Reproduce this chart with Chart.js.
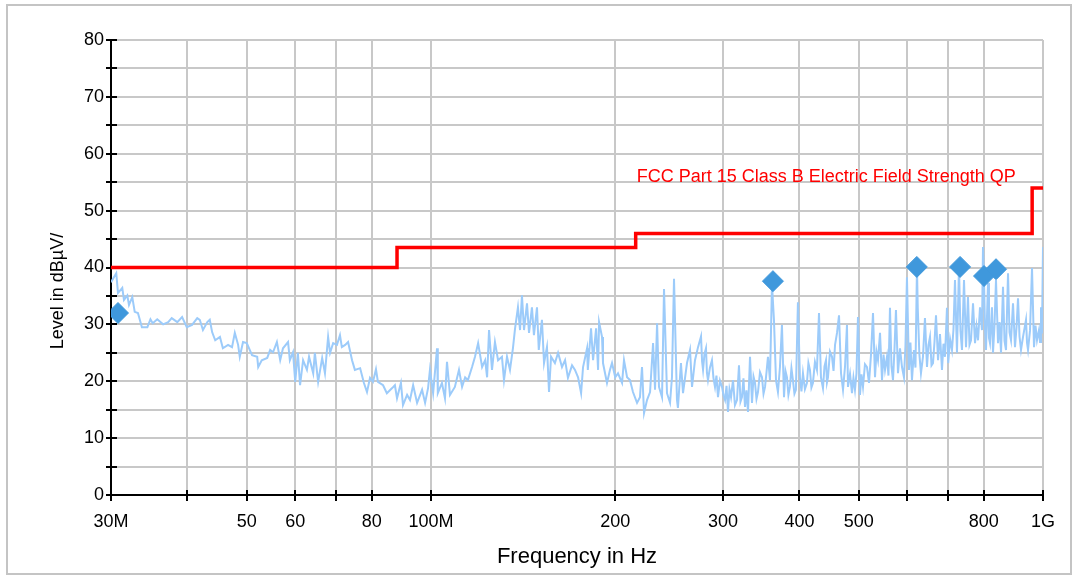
<!DOCTYPE html>
<html>
<head>
<meta charset="utf-8">
<script src="https://cdn.jsdelivr.net/npm/chart.js@4.4.1/dist/chart.umd.min.js"></script>
<style>
  html, body { margin: 0; padding: 0; background: #fff; }
  #wrap { position: relative; width: 1073px; height: 576px; }
</style>
</head>
<body>
<div id="wrap"><canvas id="chart" width="1073" height="576"></canvas></div>
<script>
// frequencies in MHz, levels in dBuV
var traceFreq = [
    30.0, 30.6, 30.8, 31.3, 31.5, 31.9, 32.1, 32.5, 32.8, 33.2, 33.7, 34.4, 34.8, 35.1, 35.7, 36.5, 37.2, 37.7, 38.5, 39.2,
    39.9, 40.7, 41.5, 41.9, 42.4, 43.1, 43.5, 43.9, 44.4, 45.2, 45.7, 46.6, 47.3, 47.8, 48.4, 48.7, 49.3, 50.0, 51.0, 52.0,
    52.2, 52.9, 54.0, 54.6, 55.2, 56.0, 56.7, 57.3, 58.4, 58.8, 59.5, 60.0, 60.6, 61.1, 61.8, 62.7, 63.2, 64.2, 64.6, 65.4,
    66.4, 67.1, 67.9, 68.4, 69.2, 70.2, 71.0, 71.5, 72.4, 73.2, 74.3, 75.1, 76.6, 77.7, 78.6, 79.5, 80.4, 81.3, 81.9, 83.5,
    84.7, 86.4, 87.3, 88.0, 89.3, 90.0, 91.4, 92.4, 93.5, 94.9, 96.7, 97.8, 98.9, 99.6, 100.8, 102.3, 102.6, 104.2, 105.4, 106.2,
    107.4, 109.4, 111.1, 112.4, 113.7, 114.9, 116.7, 118.0, 119.4, 121.2, 122.6, 123.5, 124.4, 125.8, 127.2, 128.7, 130.6, 131.6, 133.1, 134.6,
    136.1, 137.2, 138.7, 139.8, 140.8, 141.9, 143.5, 144.6, 146.2, 147.3, 149.0, 150.0, 151.8, 153.0, 154.7, 155.9, 157.1, 159.4, 161.3, 163.7,
    165.6, 167.4, 170.0, 171.9, 173.9, 175.9, 177.2, 179.9, 180.4, 182.6, 184.0, 186.1, 187.5, 188.2, 190.3, 191.0, 193.9, 196.1, 197.6, 200.0,
    202.1, 205.2, 206.7, 209.1, 211.4, 213.8, 217.1, 219.5, 221.2, 222.9, 225.4, 228.0, 230.6, 232.3, 234.1, 235.8, 238.5, 240.3, 243.0, 245.8,
    247.6, 249.5, 252.3, 253.2, 256.1, 258.1, 262.0, 265.0, 267.0, 270.0, 273.1,
    276.2, 277.3, 278.3, 279.8, 281.4, 282.4, 283.5, 285.6, 287.8, 289.4, 291.1, 292.7, 294.4, 296.6, 298.9, 300.6, 302.3, 304.0, 305.7, 307.4,
    309.2, 311.5, 313.8, 316.2, 318.6, 320.4, 322.2, 324.0, 325.9, 327.7, 329.6, 332.1, 334.6, 336.5, 338.4, 340.3, 342.2, 344.8, 347.4, 349.4,
    351.4, 353.3, 355.3, 358.0, 360.7, 363.4, 366.2, 368.9, 371.7, 374.5, 377.4, 379.5, 381.6, 383.7, 385.9, 388.1, 390.3, 392.5, 394.7, 397.7,
    400.7, 403.0, 405.3, 408.3, 411.4, 413.7, 416.1, 418.4, 420.8, 424.0, 427.2, 430.5, 433.7, 437.0, 439.5, 442.0, 443.6, 445.3, 448.7, 452.1,
    454.7, 457.3, 460.7, 464.2, 467.7, 471.2, 474.8, 478.3, 480.1, 483.8, 487.4, 490.1, 492.9, 495.7, 498.5, 502.3, 505.1, 508.0, 511.8, 515.7,
    519.6, 523.5, 527.5, 531.5, 534.5, 537.5, 541.6, 545.7, 548.8, 551.9, 556.0, 559.1, 562.3, 565.5, 568.7, 571.9, 575.1, 579.5, 583.9, 588.3,
    592.7, 596.0, 599.4, 603.9, 607.3, 610.8, 615.4, 618.9, 622.4, 624.2, 628.0, 631.8, 636.6, 641.4, 646.3, 650.0, 653.7, 657.4, 661.1, 664.8,
    668.6, 673.7, 678.7, 683.8, 687.7, 691.6, 696.8, 700.0, 705.0, 710.0, 714.0, 718.1, 723.5, 729.0, 733.1, 737.3, 742.9, 748.5, 754.1, 758.4,
    762.7, 768.5, 774.3, 778.7, 783.1, 789.0, 794.9, 797.9, 800.9, 804.0, 807.0, 813.1, 816.1, 819.2, 825.4, 828.5, 833.2, 837.9, 844.3, 849.1,
    853.9, 860.3, 865.2, 870.1, 876.7, 881.6, 886.6, 893.3, 900.0, 905.1, 910.3, 915.4, 920.6, 927.6, 938.1, 941.6, 945.2, 952.3, 959.5, 966.7,
    972.2, 977.7, 985.1, 988.8, 992.5, 996.2, 1000
];
var traceLevel = [
    37.4, 39.0, 35.5, 36.4, 34.3, 35.1, 33.4, 34.8, 32.2, 32.0, 29.5, 29.5, 30.9, 30.2, 30.9, 30.0, 30.4, 31.1, 30.4, 31.3,
    29.5, 29.9, 31.1, 30.8, 29.0, 30.4, 30.8, 28.6, 27.2, 27.8, 25.8, 26.4, 26.0, 28.5, 26.4, 24.3, 26.9, 26.7, 24.6, 24.3,
    22.5, 23.7, 24.1, 25.5, 25.1, 26.9, 23.7, 25.8, 26.9, 23.7, 25.1, 19.9, 25.0, 19.3, 23.7, 22.0, 24.3, 21.4, 25.0, 19.9,
    24.1, 21.4, 27.8, 25.0, 26.7, 26.4, 28.1, 26.0, 26.4, 26.9, 23.7, 22.0, 22.3, 19.7, 18.1, 20.6, 19.9, 22.1, 19.9, 19.3,
    17.9, 18.8, 19.3, 17.0, 19.7, 15.8, 17.6, 16.7, 19.3, 16.2, 18.5, 16.2, 18.8, 22.0, 17.9, 25.8, 17.9, 19.7, 17.0, 23.4,
    17.6, 19.0, 22.0, 19.0, 20.7, 20.2, 22.5, 24.3, 26.7, 22.5, 23.7, 20.7, 29.0, 22.0, 26.9, 23.7, 24.3, 20.2, 24.3, 22.0,
    25.8, 29.3, 33.0, 29.0, 35.1, 29.0, 33.7, 28.5, 33.0, 28.1, 33.0, 25.5, 30.8, 23.2, 26.0, 18.1, 24.3, 23.2, 25.0, 22.5,
    23.7, 20.6, 22.8, 22.0, 20.7, 17.9, 22.5, 25.8, 22.0, 29.3, 23.7, 29.3, 22.0, 30.4, 27.8, 23.2, 19.7, 22.0, 23.2, 20.7,
    21.4, 19.7, 23.7, 20.7, 20.2, 18.1, 16.2, 17.2, 22.5, 14.4, 16.7, 18.1, 26.7, 18.5, 30.2, 19.0, 17.2, 36.2, 17.9, 16.2,
    20.7, 38.0, 16.7, 15.3, 23.2, 17.9, 23.2, 25.5, 19.0, 23.7, 26.0,
    27.9, 23.5, 22.0, 24.8, 25.8, 21.5, 20.2, 22.4, 23.7, 20.6, 19.0, 21.0, 17.2, 20.1, 19.0, 17.5, 16.7, 19.2, 14.6, 18.6,
    17.2, 20.2, 15.8, 16.7, 22.8, 16.4, 17.2, 20.5, 15.5, 18.4, 14.6, 24.3, 16.2, 20.8, 19.7, 16.9, 18.1, 21.6, 20.7, 17.8,
    19.0, 21.5, 24.3, 20.2, 37.0, 30.8, 20.2, 18.1, 22.5, 29.9, 17.2, 21.8, 20.7, 17.6, 19.0, 22.3, 20.2, 17.8, 18.5, 33.9,
    20.7, 18.2, 21.4, 18.6, 19.7, 23.2, 22.0, 18.9, 19.7, 23.4, 22.0, 32.0, 20.7, 18.8, 22.6, 23.7, 19.8, 20.7, 25.2, 24.3,
    21.8, 26.4, 28.5, 31.6, 21.4, 18.5, 22.6, 29.9, 19.0, 21.3, 17.9, 20.6, 18.5, 21.4, 31.3, 17.6, 21.2, 19.0, 23.0, 22.5,
    19.7, 24.6, 32.0, 20.7, 25.2, 23.7, 28.5, 20.2, 24.7, 22.0, 24.3, 21.0, 32.9, 22.6, 20.2, 25.6, 32.5, 21.4, 25.8, 22.5,
    20.7, 26.2, 38.3, 22.0, 26.8, 20.2, 25.5, 22.4, 40.1, 33.0, 24.8, 21.4, 24.3, 31.1, 22.5, 26.4, 27.8, 22.8, 23.2, 26.9,
    31.6, 23.7, 28.3, 22.0, 26.6, 24.3, 32.9, 23.2, 27.4, 25.5, 29.1, 37.8, 25.0, 40.1, 28.8, 25.5, 37.8, 26.0, 34.8, 26.4,
    27.2, 33.7, 26.7, 29.6, 27.2, 33.0, 29.0, 43.6, 37.8, 29.4, 25.5, 37.3, 27.6, 26.7, 33.0, 25.0, 29.8, 37.8, 26.7, 30.4,
    25.0, 36.6, 27.1, 25.5, 39.0, 28.6, 27.2, 33.7, 26.0, 29.4, 34.6, 27.9, 25.5, 27.8, 30.8, 26.8, 25.5, 28.9, 39.9, 26.0,
    29.8, 27.2, 29.0, 26.9, 33.0, 28.4, 43.6
];

// FCC Part 15 class B limit (stepped)
var limitFreq = [30, 88, 216, 960, 1000];
var limitLevel = [40, 43.5, 46, 54, 54];

// final (QP) measurement markers
var markerFreq = [30.8, 362, 622, 732, 801, 838];
var markerLevel = [32.0, 37.6, 40.1, 40.1, 38.5, 39.7];

var xTickValues = [30, 40, 50, 60, 70, 80, 100, 200, 300, 400, 500, 600, 700, 800, 1000];
var xTickLabels = {30: '30M', 50: '50', 60: '60', 80: '80', 100: '100M', 200: '200', 300: '300',
    400: '400', 500: '500', 800: '800', 1000: '1G'};

var fontFamily = "'Liberation Sans', Arial, sans-serif";

function pairs(xs, ys) {
    var out = [];
    for (var i = 0; i < xs.length; i++) out.push({x: xs[i], y: ys[i]});
    return out;
}

var framePlugin = {
    id: 'frame',
    beforeDraw: function (chart) {
        var ctx = chart.ctx;
        ctx.save();
        ctx.fillStyle = '#fff';
        ctx.fillRect(0, 0, chart.width, chart.height);
        ctx.strokeStyle = '#c4c4c4';
        ctx.lineWidth = 2;
        ctx.strokeRect(7, 5, chart.width - 9, chart.height - 7);
        ctx.restore();
    }
};

// ticks crossing the axis lines
var crossTicks = {
    id: 'crossTicks',
    beforeDatasetsDraw: function (chart) {
        var ctx = chart.ctx, area = chart.chartArea;
        var x = chart.scales.x, y = chart.scales.y;
        ctx.save();
        ctx.strokeStyle = '#000';
        ctx.lineWidth = 2;
        ctx.beginPath();
        x.ticks.forEach(function (t) {
            var px = Math.round(x.getPixelForValue(t.value));
            ctx.moveTo(px, area.bottom - 5);
            ctx.lineTo(px, area.bottom + 6);
        });
        y.ticks.forEach(function (t) {
            var py = Math.round(y.getPixelForValue(t.value));
            ctx.moveTo(area.left - 5, py);
            ctx.lineTo(area.left + 6, py);
        });
        ctx.stroke();
        ctx.restore();
    }
};

var textPlugin = {
    id: 'texts',
    afterDraw: function (chart) {
        var ctx = chart.ctx;
        var x = chart.scales.x, y = chart.scales.y;
        ctx.save();
        // limit line label
        ctx.fillStyle = '#ff0000';
        ctx.font = '18px ' + fontFamily;
        ctx.textAlign = 'left';
        ctx.textBaseline = 'alphabetic';
        ctx.fillText('FCC Part 15 Class B Electric Field Strength QP', x.getPixelForValue(216) + 1, y.getPixelForValue(55));
        // y axis title
        ctx.fillStyle = '#000';
        ctx.font = '18px ' + fontFamily;
        ctx.textAlign = 'center';
        ctx.textBaseline = 'middle';
        ctx.translate(58, 291);
        ctx.rotate(-Math.PI / 2);
        ctx.fillText('Level in dB\u00B5V/', 0, 0);
        ctx.restore();
    }
};

var ctx = document.getElementById('chart').getContext('2d');
var chart = new Chart(ctx, {
    type: 'line',
    data: {
        datasets: [{
            label: 'Final',
            data: pairs(markerFreq, markerLevel),
            showLine: false,
            pointStyle: 'rectRot',
            pointRadius: 10.5,
            pointBorderWidth: 1,
            pointBackgroundColor: '#3f98dc',
            pointBorderColor: '#3f98dc'
        }, {
            label: 'Limit',
            data: pairs(limitFreq, limitLevel),
            stepped: 'before',
            borderColor: '#ff0000',
            borderWidth: 3.5,
            pointRadius: 0
        }, {
            label: 'Trace',
            data: pairs(traceFreq, traceLevel),
            borderColor: '#9ccbfa',
            borderWidth: 2,
            pointRadius: 0,
            tension: 0
        }]
    },
    options: {
        responsive: false,
        animation: false,
        layout: { padding: { top: 40, right: 30, left: 0, bottom: 0 } },
        plugins: { legend: { display: false }, tooltip: { enabled: false } },
        scales: {
            x: {
                type: 'logarithmic',
                min: 30,
                max: 1000,
                afterBuildTicks: function (scale) {
                    scale.ticks = xTickValues.map(function (v) { return {value: v}; });
                },
                afterFit: function (scale) { scale.height = 81; },
                grid: { color: '#c8c8c8', lineWidth: 2, drawTicks: false },
                border: { color: '#000', width: 2 },
                ticks: {
                    autoSkip: false,
                    maxRotation: 0,
                    padding: 16,
                    color: '#000',
                    font: { family: fontFamily, size: 18 },
                    callback: function (value) { return xTickLabels[value] || ''; }
                },
                title: {
                    display: true,
                    text: 'Frequency in Hz',
                    color: '#000',
                    font: { family: fontFamily, size: 22 },
                    padding: { top: 0, bottom: 6 }
                }
            },
            y: {
                min: 0,
                max: 80,
                afterFit: function (scale) { scale.width = 111; },
                grid: { color: '#c8c8c8', lineWidth: 2, drawTicks: false },
                border: { color: '#000', width: 2 },
                ticks: {
                    stepSize: 5,
                    padding: 7,
                    color: '#000',
                    font: { family: fontFamily, size: 18 },
                    callback: function (value) { return value % 10 === 0 ? String(value) : ''; }
                }
            }
        }
    },
    plugins: [framePlugin, crossTicks, textPlugin]
});
</script>
</body>
</html>
